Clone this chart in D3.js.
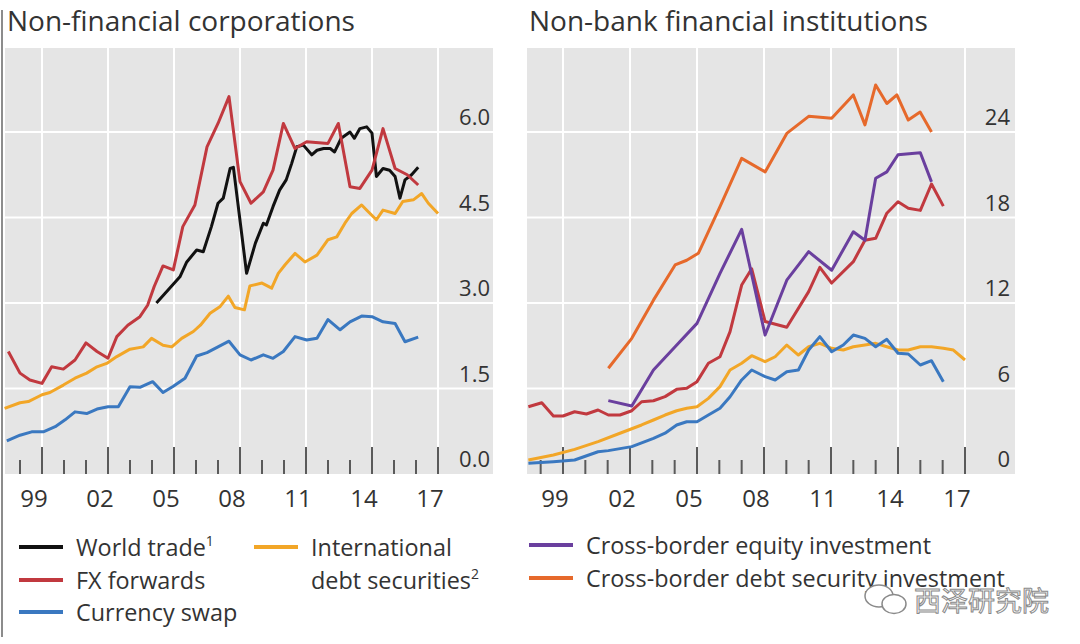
<!DOCTYPE html>
<html>
<head>
<meta charset="utf-8">
<script src="https://cdn.jsdelivr.net/npm/d3@7/dist/d3.min.js"></script>
<style>
  html, body { margin: 0; padding: 0; background: #fff; }
  svg { display: block; }
  text { font-family: "Open Sans", "Noto Sans", sans-serif; fill: #333; }
</style>
</head>
<body>
<svg id="chart" width="1080" height="644"></svg>
<script>
// ---------------- DATA ----------------
const years = [1998, 1999, 2000, 2001, 2002, 2003, 2004, 2005, 2006, 2007, 2008, 2009, 2010, 2011, 2012, 2013, 2014, 2015, 2016, 2017];
const yearLabels = ["99", "02", "05", "08", "11", "14", "17"];
const labelYears = [1999, 2002, 2005, 2008, 2011, 2014, 2017];
const leftTicks = [0, 1.5, 3.0, 4.5, 6.0];
const rightTicks = [0, 6, 12, 18, 24];

// Left panel: Non-financial corporations  [year, value]
const worldTrade = [[2004.2,3.0],[2004.67,3.2],[2005.27,3.46],[2005.58,3.72],[2006.03,3.93],[2006.33,3.9],[2006.7,4.34],[2007.0,4.75],[2007.24,4.84],[2007.55,5.36],[2007.7,5.38],[2008.3,3.52],[2008.7,4.05],[2009.06,4.4],[2009.2,4.37],[2009.5,4.69],[2009.8,4.98],[2010.1,5.16],[2010.35,5.45],[2010.58,5.74],[2010.88,5.77],[2011.26,5.6],[2011.5,5.68],[2011.8,5.71],[2012.1,5.71],[2012.3,5.65],[2012.6,5.89],[2013.0,6.0],[2013.2,5.89],[2013.45,6.06],[2013.76,6.09],[2014.0,5.98],[2014.2,5.22],[2014.5,5.36],[2014.8,5.33],[2015.05,5.22],[2015.27,4.84],[2015.5,5.16],[2015.8,5.25],[2016.1,5.38]];
const fxForwards = [[1997.47,2.15],[1998.0,1.77],[1998.45,1.65],[1999.0,1.59],[1999.44,1.88],[1999.97,1.84],[2000.5,2.0],[2001.0,2.3],[2001.5,2.15],[2002.0,2.03],[2002.4,2.41],[2002.9,2.61],[2003.45,2.76],[2003.8,2.96],[2004.1,3.29],[2004.5,3.65],[2004.97,3.58],[2005.4,4.34],[2005.95,4.72],[2006.5,5.74],[2007.0,6.15],[2007.5,6.62],[2008.0,5.13],[2008.5,4.75],[2009.06,4.95],[2009.5,5.33],[2009.97,6.15],[2010.5,5.71],[2011.03,5.83],[2012.0,5.8],[2012.47,6.15],[2013.0,5.04],[2013.45,5.01],[2014.0,5.33],[2014.5,6.06],[2015.05,5.36],[2015.6,5.25],[2016.1,5.07]];
const currencySwap = [[1997.4,0.58],[1998.0,0.68],[1998.53,0.74],[1999.06,0.74],[1999.6,0.83],[2000.05,0.95],[2000.5,1.09],[2001.03,1.06],[2001.5,1.14],[2002.0,1.18],[2002.47,1.18],[2003.0,1.53],[2003.45,1.52],[2004.03,1.62],[2004.5,1.43],[2004.97,1.54],[2005.5,1.68],[2006.03,2.07],[2006.5,2.13],[2007.0,2.23],[2007.5,2.33],[2008.0,2.09],[2008.5,2.0],[2009.06,2.09],[2009.5,2.03],[2009.97,2.15],[2010.5,2.41],[2011.03,2.35],[2011.5,2.38],[2012.0,2.71],[2012.55,2.53],[2013.0,2.67],[2013.53,2.77],[2014.0,2.76],[2014.5,2.67],[2015.05,2.64],[2015.5,2.32],[2016.1,2.4]];
const intlDebt = [[1997.3,1.15],[1998.0,1.25],[1998.38,1.27],[1999.0,1.39],[1999.36,1.43],[1999.97,1.56],[2000.5,1.68],[2001.03,1.77],[2001.5,1.88],[2001.94,1.94],[2002.4,2.06],[2003.0,2.19],[2003.6,2.23],[2003.98,2.38],[2004.5,2.26],[2004.9,2.23],[2005.35,2.38],[2005.88,2.5],[2006.2,2.61],[2006.64,2.82],[2007.1,2.94],[2007.47,3.12],[2007.77,2.92],[2008.2,2.88],[2008.45,3.3],[2009.0,3.35],[2009.44,3.26],[2009.74,3.52],[2010.05,3.67],[2010.5,3.87],[2010.95,3.72],[2011.5,3.84],[2012.0,4.11],[2012.4,4.16],[2012.77,4.4],[2013.08,4.57],[2013.53,4.72],[2013.83,4.6],[2014.2,4.46],[2014.5,4.63],[2015.05,4.57],[2015.4,4.78],[2015.88,4.81],[2016.26,4.92],[2016.56,4.75],[2017.0,4.57]];

// Right panel: Non-bank financial institutions  [year, value]
const nbFxForwards = [[1997.45,4.72],[1998.05,5.0],[1998.57,4.07],[1999.0,4.07],[1999.52,4.37],[2000.05,4.21],[2000.57,4.49],[2001.03,4.14],[2001.55,4.14],[2002.08,4.44],[2002.52,5.07],[2003.05,5.14],[2003.57,5.43],[2004.09,5.94],[2004.54,6.01],[2005.0,6.48],[2005.51,7.77],[2006.03,8.23],[2006.48,9.99],[2007.0,13.26],[2007.45,14.4],[2008.05,10.7],[2009.02,10.3],[2010.0,12.8],[2010.5,14.5],[2011.03,13.4],[2012.0,14.9],[2012.52,16.4],[2013.0,16.54],[2013.5,18.3],[2014.0,19.1],[2014.46,18.65],[2015.0,18.5],[2015.5,20.35],[2016.03,18.8]];
const nbCurrencySwap = [[1997.45,0.75],[1998.57,0.86],[1999.52,0.98],[2000.57,1.56],[2001.03,1.64],[2002.08,1.92],[2003.05,2.5],[2003.57,2.86],[2004.09,3.44],[2004.54,3.67],[2005.0,3.67],[2005.51,4.14],[2006.03,4.61],[2006.48,5.42],[2007.0,6.6],[2007.45,7.3],[2008.05,6.83],[2008.5,6.6],[2009.02,7.18],[2009.54,7.3],[2010.0,8.7],[2010.5,9.64],[2011.03,8.58],[2011.55,9.05],[2012.0,9.75],[2012.52,9.52],[2013.0,8.93],[2013.5,9.45],[2014.0,8.47],[2014.46,8.42],[2015.0,7.65],[2015.5,7.95],[2016.03,6.48]];
const nbIntlDebt = [[1997.45,0.98],[1998.57,1.33],[1999.52,1.73],[2000.57,2.27],[2001.55,2.86],[2002.52,3.44],[2003.05,3.79],[2003.57,4.14],[2004.09,4.44],[2004.54,4.61],[2005.0,4.72],[2005.51,5.31],[2006.03,6.13],[2006.48,7.3],[2007.0,7.77],[2007.45,8.3],[2008.05,7.88],[2008.5,8.23],[2009.02,9.05],[2009.54,8.35],[2010.0,8.93],[2010.5,9.17],[2011.03,8.82],[2011.55,8.7],[2012.0,8.93],[2012.52,9.05],[2013.0,9.17],[2013.5,8.93],[2014.0,8.7],[2014.46,8.7],[2015.0,8.93],[2015.5,8.93],[2016.03,8.82],[2016.48,8.7],[2017.0,8.0]];
const equityInv = [[2001.03,5.15],[2002.08,4.77],[2003.05,7.3],[2004.02,8.93],[2005.0,10.57],[2006.03,14.08],[2007.0,17.17],[2008.05,9.75],[2009.02,13.6],[2010.0,15.6],[2011.03,14.3],[2012.0,17.0],[2012.52,16.4],[2013.0,20.75],[2013.5,21.2],[2014.0,22.4],[2015.0,22.55],[2015.5,20.5]];
const debtSecInv = [[2001.03,7.42],[2002.08,9.52],[2003.05,12.2],[2004.02,14.67],[2004.54,15.0],[2005.06,15.49],[2006.03,18.76],[2007.0,22.15],[2008.05,21.2],[2009.02,23.9],[2010.0,25.1],[2011.03,24.96],[2012.0,26.6],[2012.52,24.5],[2013.0,27.3],[2013.5,26.0],[2013.95,26.6],[2014.46,24.84],[2014.99,25.4],[2015.5,24.0]];

// ---------------- STYLE ----------------
const C = {
  black: "#111111", red: "#c1393f", blue: "#3a78c0", yellow: "#f2a627",
  purple: "#6a3f9e", orange: "#e6692b", bg: "#e5e5e5", tick: "#5a5a5a"
};

const svg = d3.select("#chart");
svg.append("rect").attr("width", 1080).attr("height", 644).attr("fill", "#fff");
// image frame line at left
svg.append("line").attr("x1", 2).attr("x2", 2).attr("y1", 10).attr("y2", 637)
  .attr("stroke", "#666").attr("stroke-width", 1.5);

function panel(opt) {
  const g = svg.append("g");
  const x = d3.scaleLinear().domain([1999, 2017]).range(opt.xr);
  const y = d3.scaleLinear().domain(opt.ydom).range([474, 132]);
  g.append("rect").attr("x", opt.bg[0]).attr("y", 48)
    .attr("width", opt.bg[1] - opt.bg[0]).attr("height", 474 - 48).attr("fill", C.bg);
  // horizontal grid
  g.selectAll(".hg").data(opt.yticks.filter(d => d > 0)).join("line")
    .attr("x1", opt.bg[0]).attr("x2", opt.bg[1])
    .attr("y1", d => y(d)).attr("y2", d => y(d))
    .attr("stroke", "#fff").attr("stroke-width", 2);
  // vertical grid
  g.selectAll(".vg").data(labelYears).join("line")
    .attr("x1", d => x(d)).attr("x2", d => x(d))
    .attr("y1", 48).attr("y2", 474)
    .attr("stroke", "#fff").attr("stroke-width", 2);
  // ticks
  g.selectAll(".tk").data(years).join("line")
    .attr("x1", d => x(d)).attr("x2", d => x(d))
    .attr("y1", d => labelYears.includes(d) ? 447 : 460).attr("y2", 474)
    .attr("stroke", C.tick).attr("stroke-width", 2);
  // y labels
  g.selectAll(".yl").data(opt.yticks).join("text")
    .attr("x", opt.ylx).attr("y", d => y(d) - 7)
    .attr("text-anchor", "end").style("font-size", "22px")
    .text(opt.fmt);
  // x labels
  g.selectAll(".xl").data(labelYears).join("text")
    .attr("x", d => x(d) - 8).attr("y", 507)
    .attr("text-anchor", "middle").style("font-size", "24px")
    .text((d, i) => yearLabels[i]);
  // title
  g.append("text").attr("x", opt.bg[0] + 2).attr("y", 31)
    .style("font-size", "28px").text(opt.title);
  // lines
  const line = d3.line().x(d => x(d[0])).y(d => y(d[1]));
  opt.series.forEach(s => {
    g.append("path").datum(s.data).attr("d", line)
      .attr("fill", "none").attr("stroke", s.color).attr("stroke-width", 3)
      .attr("stroke-linejoin", "round").attr("stroke-linecap", "butt");
  });
}

panel({
  xr: [42, 438], bg: [5, 493], ydom: [0, 6], yticks: leftTicks, ylx: 490,
  fmt: d3.format(".1f"), title: "Non-financial corporations",
  series: [
    { data: currencySwap, color: C.blue },
    { data: intlDebt, color: C.yellow },
    { data: worldTrade, color: C.black },
    { data: fxForwards, color: C.red }
  ]
});
panel({
  xr: [563, 965], bg: [527, 1015], ydom: [0, 24], yticks: rightTicks, ylx: 1010,
  fmt: d3.format("d"), title: "Non-bank financial institutions",
  series: [
    { data: nbIntlDebt, color: C.yellow },
    { data: nbCurrencySwap, color: C.blue },
    { data: nbFxForwards, color: C.red },
    { data: equityInv, color: C.purple },
    { data: debtSecInv, color: C.orange }
  ]
});

// ---------------- LEGEND ----------------
const legendItems = [
  { x: 19, y: 547, color: C.black, label: "World trade", sup: "1" },
  { x: 19, y: 580, color: C.red, label: "FX forwards" },
  { x: 19, y: 612, color: C.blue, label: "Currency swap" },
  { x: 254, y: 547, color: C.yellow, label: "International" },
  { x: 254, y: 580, color: null, label: "debt securities", sup: "2" },
  { x: 529, y: 545, color: C.purple, label: "Cross-border equity investment" },
  { x: 529, y: 578, color: C.orange, label: "Cross-border debt security investment" }
];
const lg = svg.append("g");
legendItems.forEach(it => {
  if (it.color) {
    lg.append("line").attr("x1", it.x).attr("x2", it.x + 44)
      .attr("y1", it.y).attr("y2", it.y)
      .attr("stroke", it.color).attr("stroke-width", 4);
  }
  const t = lg.append("text").attr("x", it.x + 57).attr("y", it.y + 9)
    .style("font-size", "23.4px").text(it.label);
  if (it.sup) {
    t.append("tspan").attr("dy", -10).style("font-size", "14px").text(it.sup);
  }
});

// ---------------- WATERMARK ----------------
const wm = svg.append("g");
wm.append("ellipse").attr("cx", 879).attr("cy", 596).attr("rx", 14).attr("ry", 11)
  .attr("fill", "#fff").attr("stroke", "#8a8a8a").attr("stroke-width", 1.5);
wm.append("ellipse").attr("cx", 894).attr("cy", 604).attr("rx", 12).attr("ry", 9.5)
  .attr("fill", "#fff").attr("stroke", "#8a8a8a").attr("stroke-width", 1.5);
wm.append("text").attr("x", 914).attr("y", 611)
  .style("font-family", "'Noto Sans CJK SC', sans-serif").style("font-size", "27px")
  .style("fill", "#fafafa").attr("stroke", "#8a8a8a").attr("stroke-width", 1)
  .text("西泽研究院");
</script>
</body>
</html>
